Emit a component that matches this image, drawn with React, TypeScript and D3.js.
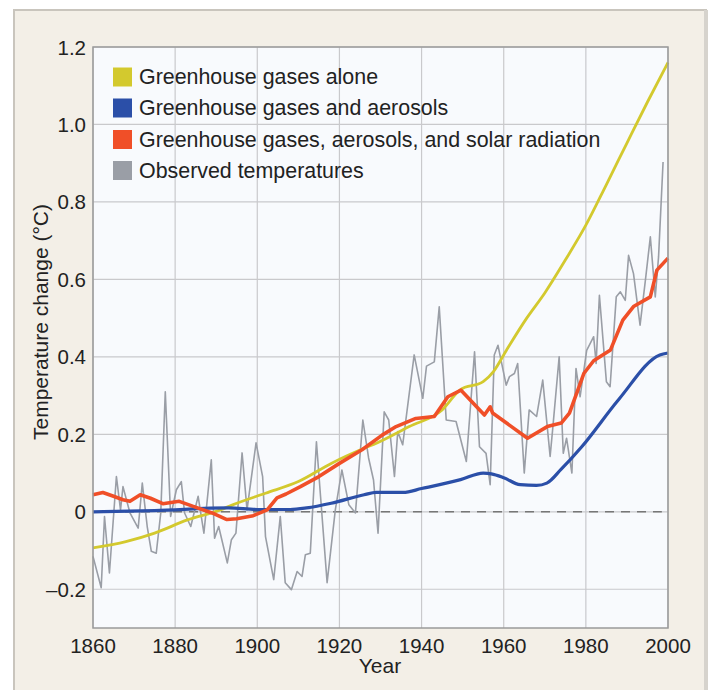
import React from "react";
import * as d3 from "d3";

const xTicks = [1860, 1880, 1900, 1920, 1940, 1960, 1980, 2000];
const yTicks = [-0.2, 0, 0.2, 0.4, 0.6, 0.8, 1.0, 1.2];
const yTickLabels = ["\u20130.2", "0", "0.2", "0.4", "0.6", "0.8", "1.0", "1.2"];

const legendLabels = [
  "Greenhouse gases alone",
  "Greenhouse gases and aerosols",
  "Greenhouse gases, aerosols, and solar radiation",
  "Observed temperatures",
];

const ghgYears = [1860, 1868, 1875, 1883, 1891, 1894, 1902, 1910, 1918, 1926, 1929, 1937, 1945, 1949.4, 1955, 1957.5, 1960.7, 1965.6, 1970, 1975, 1980, 1985, 1990, 1995, 2000];
const ghgValues = [-0.093, -0.077, -0.055, -0.021, 0.005, 0.018, 0.048, 0.078, 0.125, 0.164, 0.177, 0.22, 0.263, 0.315, 0.336, 0.362, 0.418, 0.5, 0.565, 0.65, 0.74, 0.845, 0.952, 1.058, 1.16];

const aerYears = [1860, 1875, 1893, 1900, 1908, 1912, 1918, 1926, 1929, 1935.5, 1940, 1949.5, 1955, 1957, 1960, 1964, 1968, 1970.5, 1974, 1979, 1988, 1998, 2000];
const aerValues = [0.0, 0.003, 0.01, 0.006, 0.006, 0.01, 0.022, 0.044, 0.05, 0.05, 0.06, 0.083, 0.1, 0.098, 0.088, 0.07, 0.068, 0.074, 0.11, 0.168, 0.29, 0.405, 0.41];

const solYears = [1860, 1862.4, 1865, 1867.3, 1869, 1871.5, 1874, 1877, 1881, 1884.4, 1889, 1892.6, 1895, 1899, 1902.4, 1904.8, 1907, 1910.5, 1915, 1920, 1925.5, 1930.4, 1933.8, 1938.6, 1943.1, 1946.4, 1949.6, 1955.3, 1956.7, 1957.3, 1965.8, 1970.6, 1974, 1976, 1979.5, 1981.9, 1986, 1989, 1991.6, 1995.7, 1997.3, 2000];
const solValues = [0.044, 0.05, 0.04, 0.031, 0.027, 0.044, 0.035, 0.021, 0.027, 0.014, -0.003, -0.02, -0.018, -0.01, 0.005, 0.036, 0.046, 0.065, 0.091, 0.125, 0.16, 0.198, 0.22, 0.241, 0.246, 0.297, 0.314, 0.25, 0.271, 0.255, 0.19, 0.22, 0.229, 0.255, 0.357, 0.39, 0.418, 0.495, 0.53, 0.555, 0.624, 0.655];

const obsYears = [1860.0, 1862.0, 1862.8, 1864.0, 1865.7, 1866.7, 1867.3, 1869.0, 1871.0, 1872.0, 1873.2, 1874.2, 1875.4, 1876.5, 1877.6, 1878.9, 1880.3, 1881.5, 1882.3, 1883.8, 1885.6, 1887.0, 1888.8, 1889.6, 1890.6, 1892.7, 1893.7, 1894.8, 1896.3, 1897.5, 1899.7, 1901.3, 1902.0, 1904.0, 1905.6, 1906.8, 1908.3, 1909.7, 1910.9, 1911.7, 1912.9, 1914.4, 1915.4, 1917.0, 1919.0, 1920.6, 1922.3, 1923.9, 1925.7, 1927.1, 1928.3, 1929.4, 1930.9, 1932.0, 1933.4, 1934.2, 1935.4, 1938.2, 1940.3, 1941.2, 1943.1, 1944.3, 1946.0, 1948.4, 1950.9, 1952.9, 1954.1, 1955.7, 1956.7, 1957.7, 1958.6, 1960.6, 1961.4, 1962.6, 1963.4, 1965.0, 1966.2, 1968.0, 1969.5, 1971.3, 1971.9, 1973.5, 1974.5, 1975.3, 1976.6, 1977.6, 1978.6, 1980.2, 1981.9, 1982.5, 1983.3, 1985.0, 1985.9, 1987.4, 1988.4, 1989.6, 1990.4, 1991.6, 1993.2, 1994.5, 1995.7, 1996.9, 1997.7, 1998.8];
const obsValues = [-0.115, -0.196, -0.012, -0.158, 0.091, 0.005, 0.065, -0.003, -0.042, 0.074, -0.038, -0.102, -0.107, -0.003, 0.31, -0.012, 0.057, 0.078, -0.003, -0.038, 0.04, -0.055, 0.134, -0.068, -0.038, -0.132, -0.072, -0.055, 0.152, 0.005, 0.178, 0.091, -0.064, -0.175, -0.012, -0.183, -0.201, -0.154, -0.167, -0.111, -0.107, 0.181, 0.04, -0.183, 0.005, 0.108, 0.018, -0.003, 0.237, 0.139, 0.082, -0.055, 0.258, 0.237, 0.091, 0.207, 0.173, 0.405, 0.293, 0.376, 0.387, 0.529, 0.237, 0.233, 0.13, 0.413, 0.168, 0.151, 0.07, 0.405, 0.43, 0.327, 0.349, 0.357, 0.383, 0.1, 0.263, 0.246, 0.34, 0.143, 0.211, 0.4, 0.151, 0.19, 0.1, 0.37, 0.297, 0.417, 0.452, 0.383, 0.559, 0.336, 0.323, 0.555, 0.568, 0.546, 0.662, 0.615, 0.482, 0.598, 0.71, 0.555, 0.658, 0.903];

const COLORS = {
  ghg: "#d3c92e",
  aer: "#2b4fa8",
  sol: "#f04f28",
  obs: "#9a9ea6",
};

const FONT = "'Liberation Sans', Arial, Helvetica, sans-serif";

export default function App() {
  const W = 714;
  const H = 690;
  const left = 93;
  const right = 668;
  const top = 47;
  const bottom = 628;

  const x = d3.scaleLinear().domain([1860, 2000]).range([left, right]);
  const y = d3.scaleLinear().domain([-0.3, 1.2]).range([bottom, top]);

  const mk = (years: number[], vals: number[]) =>
    d3
      .line<number>()
      .x((_, i) => x(years[i]))
      .y((v) => y(v))(vals) || "";

  const mkSmooth = (years: number[], vals: number[]) =>
    d3
      .line<number>()
      .x((_, i) => x(years[i]))
      .y((v) => y(v))
      .curve(d3.curveMonotoneX)(vals) || "";

  const legendColors = [COLORS.ghg, COLORS.aer, COLORS.sol, COLORS.obs];
  const legendY = [77, 108, 139.5, 170.5];

  return (
    <svg
      width={W}
      height={H}
      style={{ position: "absolute", left: 0, top: 0, background: "#ffffff" }}
      fontFamily={FONT}
    >
      {/* outer panel */}
      <rect x={14} y={10} width={692} height={700} fill="#f3efe7" stroke="#c9c5bd" strokeWidth={2} />
      <rect x={704} y={10} width={4} height={700} fill="#d6d3cd" />

      {/* plot background */}
      <rect x={left} y={top} width={right - left} height={bottom - top} fill="#f8fafd" />

      {/* grid */}
      {xTicks.map((t) => (
        <line key={"gx" + t} x1={x(t)} x2={x(t)} y1={top} y2={bottom} stroke="#c9c9cc" strokeWidth={1.2} />
      ))}
      {yTicks.map((t) => (
        <line key={"gy" + t} x1={left} x2={right} y1={y(t)} y2={y(t)} stroke="#c9c9cc" strokeWidth={1.2} />
      ))}

      {/* zero dashed line */}
      <line x1={x(1860)} x2={x(1998.5)} y1={y(0)} y2={y(0)} stroke="#777" strokeWidth={1.6} strokeDasharray="9,7" />

      {/* series */}
      <path d={mk(obsYears, obsValues)} fill="none" stroke={COLORS.obs} strokeWidth={1.6} strokeLinejoin="round" />
      <path d={mkSmooth(ghgYears, ghgValues)} fill="none" stroke={COLORS.ghg} strokeWidth={2.8} />
      <path d={mkSmooth(aerYears, aerValues)} fill="none" stroke={COLORS.aer} strokeWidth={3.2} strokeLinejoin="round" />
      <path d={mk(solYears, solValues)} fill="none" stroke={COLORS.sol} strokeWidth={3.6} strokeLinejoin="round" />

      {/* plot border */}
      <rect x={left} y={top} width={right - left} height={bottom - top} fill="none" stroke="#9a9a9a" strokeWidth={1.5} />

      {/* legend */}
      {legendLabels.map((lab, i) => (
        <g key={lab}>
          <rect x={113} y={legendY[i] - 9.5} width={19} height={19} fill={legendColors[i]} />
          <text x={139} y={legendY[i] + 7} fontSize={21.4} fill="#222">
            {lab}
          </text>
        </g>
      ))}

      {/* y tick labels */}
      {yTicks.map((t, i) => (
        <text key={"yl" + t} x={86} y={y(t) + 7.5} fontSize={20.5} textAnchor="end" fill="#222">
          {yTickLabels[i]}
        </text>
      ))}

      {/* x tick labels */}
      {xTicks.map((t) => (
        <text key={"xl" + t} x={x(t)} y={652.5} fontSize={20.5} textAnchor="middle" fill="#222">
          {t}
        </text>
      ))}

      <text x={380} y={673} fontSize={21} textAnchor="middle" fill="#222">
        Year
      </text>
      <text
        transform={`translate(48, 322) rotate(-90)`}
        fontSize={21}
        textAnchor="middle"
        fill="#222"
      >
        Temperature change (°C)
      </text>
    </svg>
  );
}
